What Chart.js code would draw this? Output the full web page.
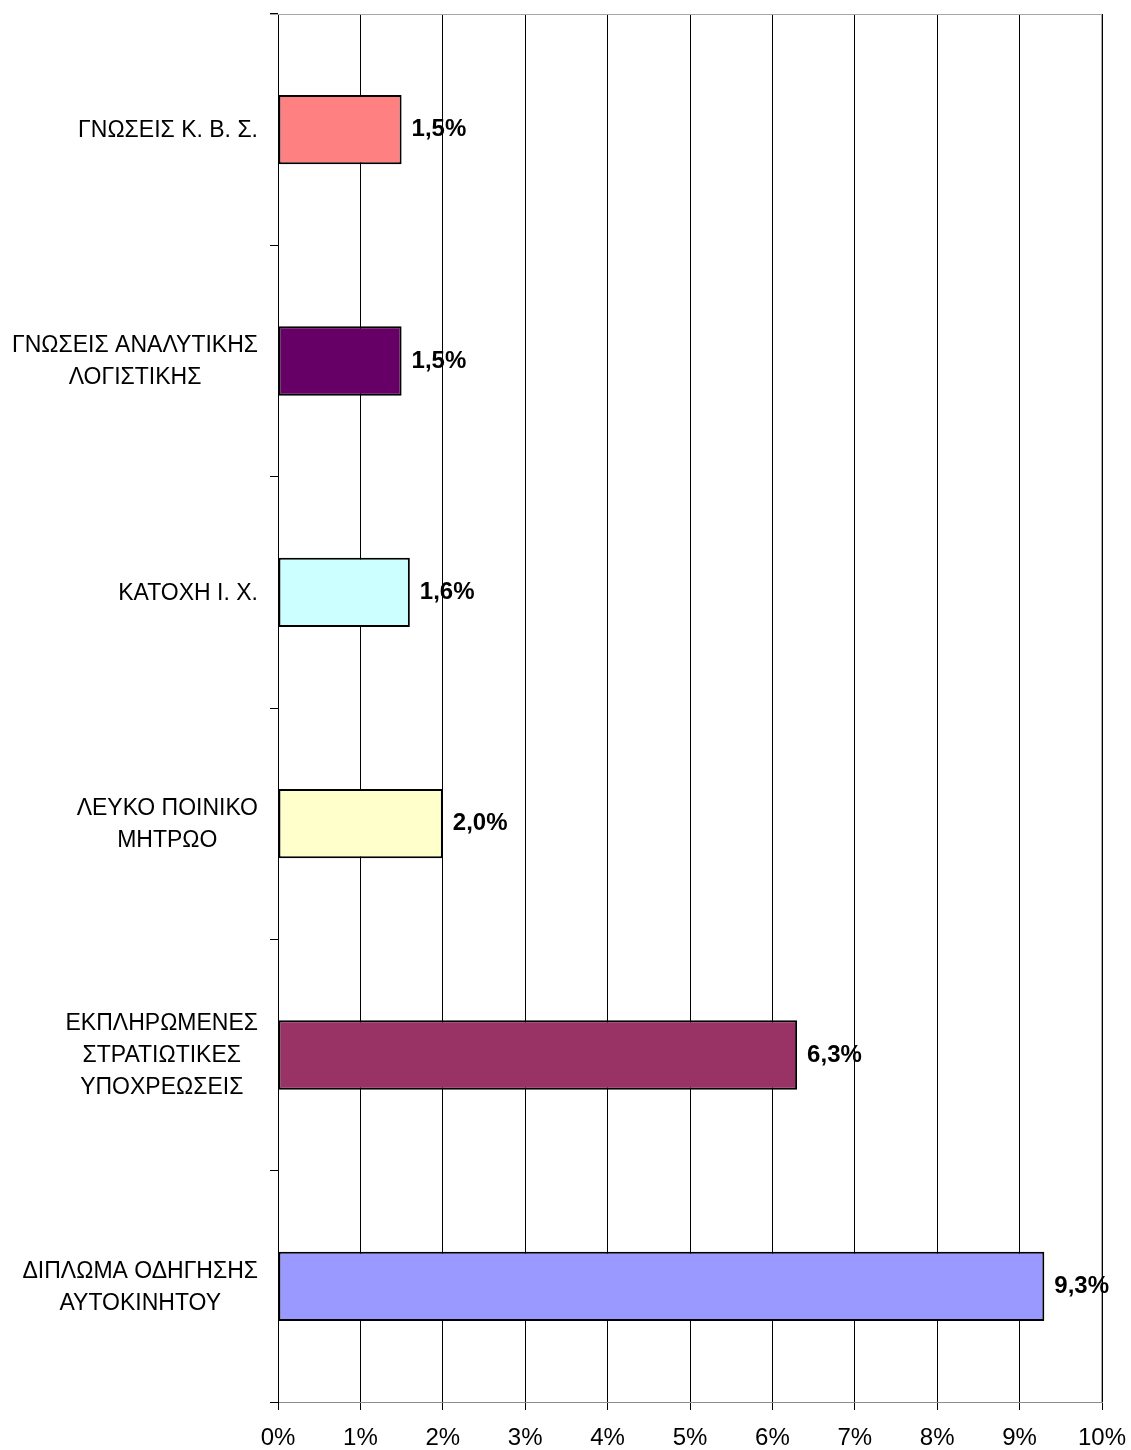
<!DOCTYPE html>
<html>
<head>
<meta charset="utf-8">
<script src="https://cdn.jsdelivr.net/npm/chart.js@4.4.1/dist/chart.umd.min.js"></script>
<style>
  html, body { margin: 0; padding: 0; background: #fff; }
  #wrap { width: 1131px; height: 1450px; position: relative; }
</style>
</head>
<body>
<div id="wrap"><canvas id="barChart"></canvas></div>
<script>
// =========================
// DATA
// =========================
const categories = [
  ["ΓΝΩΣΕΙΣ Κ. Β. Σ."],
  ["ΓΝΩΣΕΙΣ ΑΝΑΛΥΤΙΚΗΣ", "ΛΟΓΙΣΤΙΚΗΣ"],
  ["ΚΑΤΟΧΗ Ι. Χ."],
  ["ΛΕΥΚΟ ΠΟΙΝΙΚΟ", "ΜΗΤΡΩΟ"],
  ["ΕΚΠΛΗΡΩΜΕΝΕΣ", "ΣΤΡΑΤΙΩΤΙΚΕΣ", "ΥΠΟΧΡΕΩΣΕΙΣ"],
  ["ΔΙΠΛΩΜΑ ΟΔΗΓΗΣΗΣ", "ΑΥΤΟΚΙΝΗΤΟΥ"]
];
const percentValues = [1.5, 1.5, 1.6, 2.0, 6.3, 9.3];
const barColors = ["#FF8080", "#660066", "#CCFFFF", "#FFFFCC", "#993366", "#9999FF"];
const xTicks = [0, 1, 2, 3, 4, 5, 6, 7, 8, 9, 10];

const FONT = "'Liberation Sans', Arial, sans-serif";

// =========================
// PLUGINS
// =========================
// category labels: block right aligned, lines centered inside the block
const categoryLabels = {
  id: "categoryLabels",
  afterDraw(chart) {
    const ctx = chart.ctx;
    const yScale = chart.scales.y;
    const right = chart.chartArea.left - 20;
    const lineH = 32;
    ctx.save();
    ctx.font = "23px " + FONT;
    ctx.fillStyle = "#000";
    ctx.textAlign = "center";
    ctx.textBaseline = "middle";
    categories.forEach((lines, i) => {
      const w = Math.max(...lines.map(l => ctx.measureText(l).width));
      const cx = right - w / 2;
      const cy = yScale.getPixelForValue(i) + 1;
      const y0 = cy - (lines.length - 1) * lineH / 2;
      lines.forEach((l, j) => ctx.fillText(l, cx, y0 + j * lineH));
    });
    ctx.restore();
  }
};

// value labels at the bar end
const valueLabels = {
  id: "valueLabels",
  afterDatasetsDraw(chart) {
    const ctx = chart.ctx;
    const meta = chart.getDatasetMeta(0);
    ctx.save();
    ctx.font = "bold 24px " + FONT;
    ctx.fillStyle = "#000";
    ctx.textAlign = "left";
    ctx.textBaseline = "middle";
    meta.data.forEach((bar, i) => {
      const txt = percentValues[i].toFixed(1).replace(".", ",") + "%";
      ctx.fillText(txt, bar.x + 10, bar.y);
    });
    ctx.restore();
  }
};

// grey top and right edge of the plot area
const plotFrame = {
  id: "plotFrame",
  beforeDatasetsDraw(chart) {
    const { ctx, chartArea: a } = chart;
    ctx.save();
    ctx.strokeStyle = "#a6a6a6";
    ctx.lineWidth = 1;
    ctx.beginPath();
    ctx.moveTo(a.left - 8, a.top + 0.5);
    ctx.lineTo(a.right, a.top + 0.5);
    ctx.moveTo(a.right - 0.5, a.top);
    ctx.lineTo(a.right - 0.5, a.bottom);
    ctx.stroke();
    ctx.restore();
  }
};

// =========================
// CHART
// =========================
new Chart(document.getElementById("barChart"), {
  type: "bar",
  data: {
    labels: categories.map(c => c.join(" ")),
    datasets: [{
      data: percentValues,
      backgroundColor: barColors,
      borderColor: "#000",
      borderWidth: 2,
      borderSkipped: false,
      categoryPercentage: 1,
      barPercentage: 0.3
    }]
  },
  options: {
    indexAxis: "y",
    responsive: true,
    maintainAspectRatio: false,
    animation: false,
    layout: { padding: { top: 14, right: 29, left: 0, bottom: 0 } },
    plugins: { legend: { display: false }, tooltip: { enabled: false } },
    scales: {
      x: {
        min: xTicks[0],
        max: xTicks[xTicks.length - 1],
        afterBuildTicks: scale => { scale.ticks = xTicks.map(v => ({ value: v })); },
        afterFit: scale => {
          scale.height = 48;
          scale.paddingLeft = 0;
          scale.paddingRight = 0;
        },
        ticks: {
          callback: v => v + "%",
          color: "#000",
          font: { family: FONT, size: 24 },
          padding: 14,
          maxRotation: 0
        },
        grid: { color: "#000", tickColor: "#000", tickLength: 8, lineWidth: 1 },
        border: { color: "#8c8c8c", width: 1 }
      },
      y: {
        ticks: { display: false },
        afterFit: scale => { scale.width = 278; },
        grid: { drawOnChartArea: false, offset: true, tickLength: 8, color: "#000", tickColor: "#000" },
        border: { color: "#000", width: 1 }
      }
    }
  },
  plugins: [plotFrame, valueLabels, categoryLabels]
});
</script>
</body>
</html>
